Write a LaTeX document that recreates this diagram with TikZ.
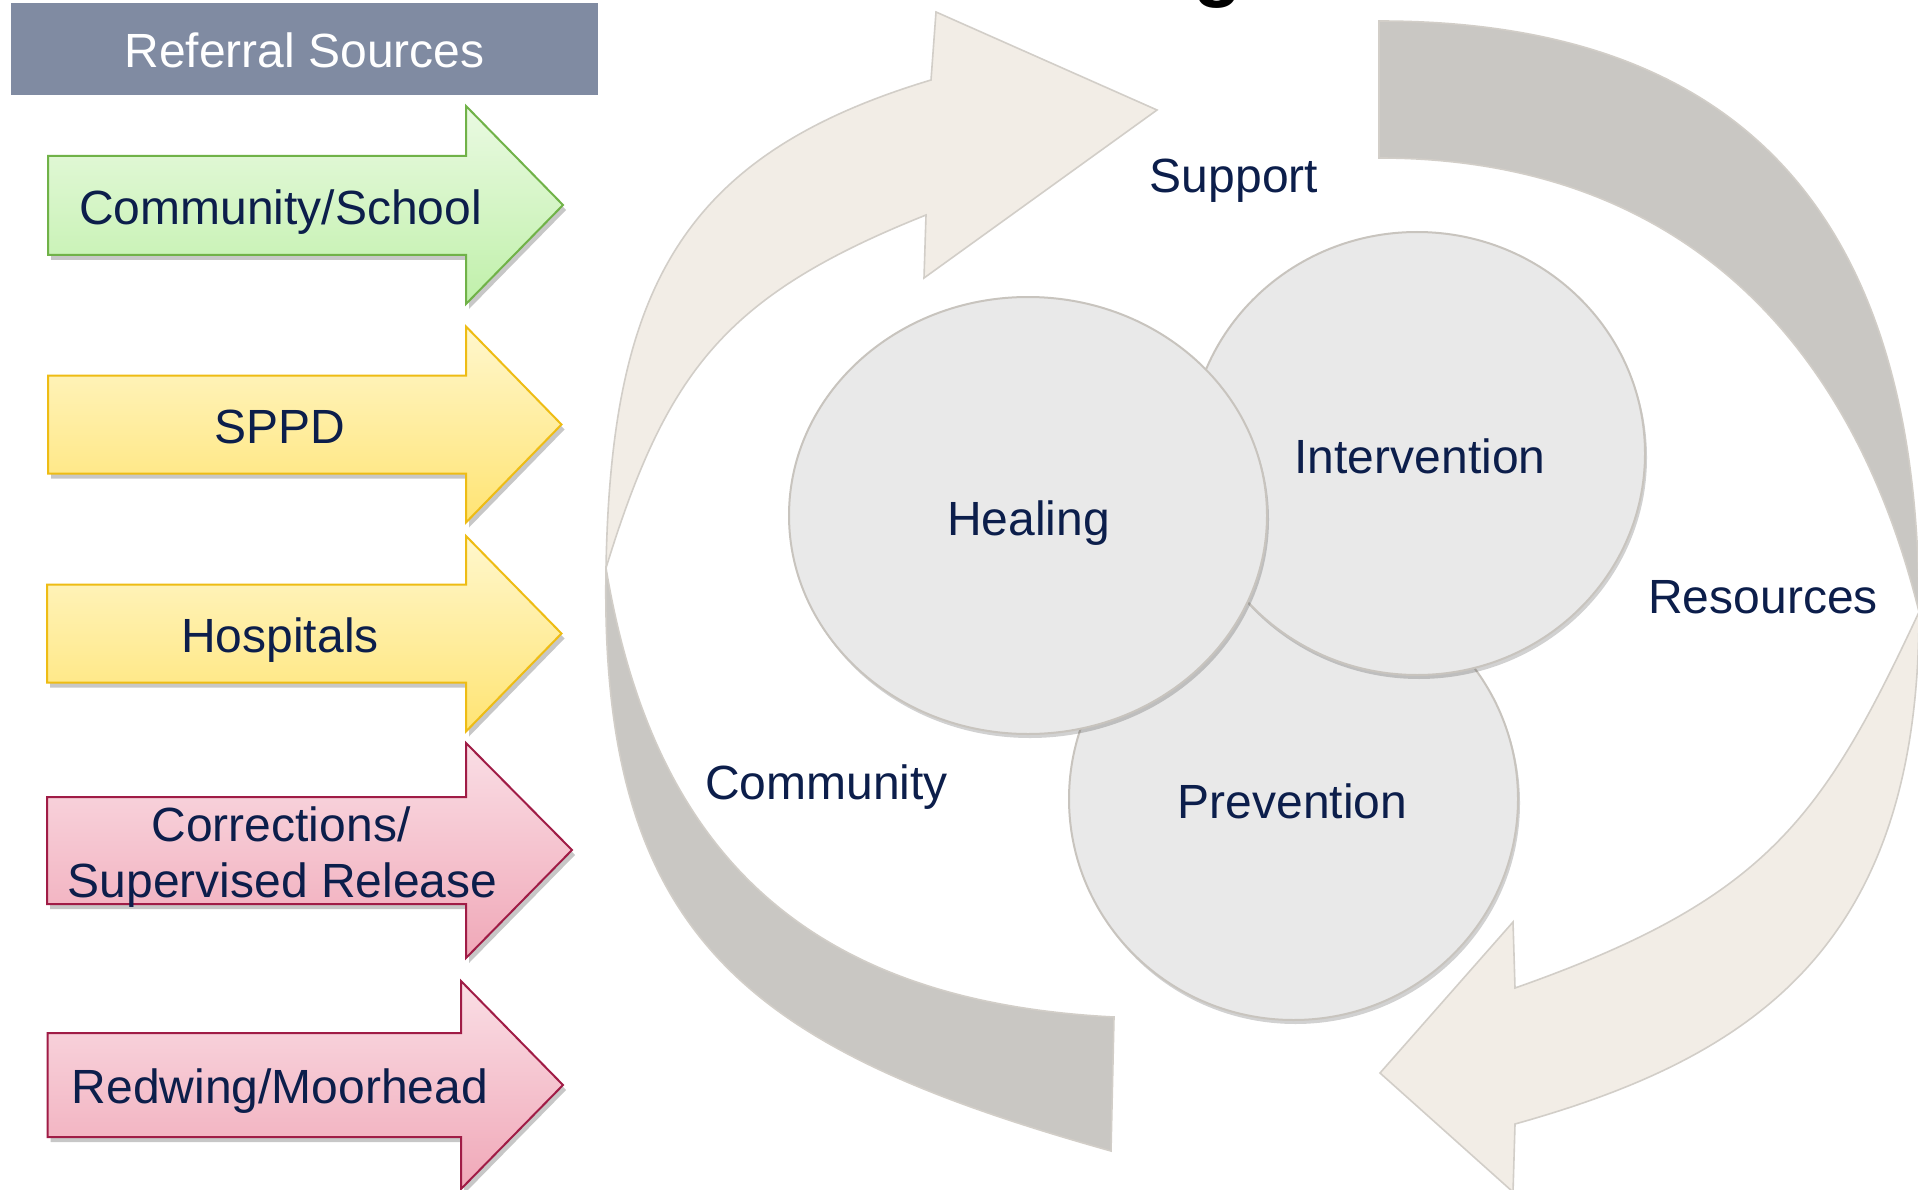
\documentclass[tikz,border=0pt]{standalone}
\usepackage{fontspec}
\setmainfont{Liberation Sans}
\usetikzlibrary{shadows,shapes.geometric}
\definecolor{navy}{RGB}{12,30,75}
\definecolor{hdr}{RGB}{128,139,162}
\definecolor{grnT}{RGB}{234,250,226}
\definecolor{grnB}{RGB}{192,240,170}
\definecolor{grnL}{RGB}{112,178,72}
\definecolor{ylwT}{RGB}{255,247,205}
\definecolor{ylwB}{RGB}{255,228,115}
\definecolor{ylwL}{RGB}{238,188,20}
\definecolor{pnkT}{RGB}{250,222,229}
\definecolor{pnkB}{RGB}{240,168,184}
\definecolor{pnkL}{RGB}{160,28,70}
\definecolor{circF}{RGB}{233,233,233}
\definecolor{circL}{RGB}{200,196,190}
\definecolor{beigeF}{RGB}{242,237,230}
\definecolor{greyF}{RGB}{201,199,195}
\definecolor{arcL}{RGB}{210,206,200}
\newcommand\srcarr[9]{%
  \path[#1] (#2,#4) -- (#3,#4) -- (#3,#6) -- (#8,#9) -- (#3,#7) -- (#3,#5) -- (#2,#5) -- cycle;}
\tikzset{
  big/.style={font=\fontsize{48}{56}\selectfont, text=navy, inner sep=0pt, anchor=base},
  srcarrow/.style={line width=2pt, line join=miter,
    drop shadow={shadow xshift=3pt, shadow yshift=-5pt, opacity=0.22, fill=black}},
  greenarr/.style={srcarrow, draw=grnL, top color=grnT, bottom color=grnB},
  yellowarr/.style={srcarrow, draw=ylwL, top color=ylwT, bottom color=ylwB},
  pinkarr/.style={srcarrow, draw=pnkL, top color=pnkT, bottom color=pnkB},
  circ/.style={ellipse, draw=circL, line width=2pt, fill=circF, inner sep=0pt,
    drop shadow={shadow xshift=2pt, shadow yshift=-4pt, opacity=0.18, fill=black}},
  beigearr/.style={fill=beigeF, draw=arcL, line width=1.6pt, line join=miter},
  greyarr/.style={fill=greyF, draw=arcL, line width=1.6pt, line join=miter},
}
\begin{document}
\begin{tikzpicture}[x=1pt,y=-1pt]
\useasboundingbox (0,0) rectangle (1918,1190);
\fill[white] (0,0) rectangle (1918,1190);

% title fragment
\node[font=\fontsize{80}{80}\selectfont\bfseries, anchor=base, inner sep=0pt] (ttl) at (1218,-8) {g};

% header
\node[fill=hdr, minimum width=587pt, minimum height=92pt, inner sep=0pt, anchor=north west] (hdr) at (11,3) {};
\node[big, text=white] (hdrtxt) at (304.5,68) {Referral Sources};

% referral arrows
\srcarr{greenarr}{48}{466}{156}{255}{106}{304}{563}{205}
\node[big] (a1) at (280.5,225) {Community/School};
\srcarr{yellowarr}{48}{466}{375.5}{473.5}{326.5}{522.5}{561.5}{424.5}
\node[big] (a2) at (280,443) {SPPD};
\srcarr{yellowarr}{47}{466}{584.5}{682.5}{536}{731.5}{561.5}{633.5}
\node[big] (a3) at (280,652) {Hospitals};
\srcarr{pinkarr}{47}{466}{797}{904}{743}{958}{572}{850}
\node[big] (a4a) at (281,841) {Corrections/};
\node[big] (a4b) at (282.5,897) {Supervised Release};
\srcarr{pinkarr}{47.5}{461}{1033}{1137}{981}{1189}{563}{1085}
\node[big] (a5) at (280,1103) {Redwing/Moorhead};

% right cycle arrow: grey tail and beige head
\path[greyarr] (1379,21) .. controls (1741,21) and (1919,215) .. (1919,612)
  .. controls (1852,340) and (1679,158) .. (1379,158) -- cycle;
\path[beigearr] (1919,612) .. controls (1919,945) and (1755,1057) .. (1515,1124)
  -- (1513,1192) -- (1380,1073) -- (1513,922) -- (1515,988)
  .. controls (1765,900) and (1822,820) .. (1919,612) -- cycle;

% left cycle arrow: grey tail and beige head
\path[greyarr] (1111,1151) .. controls (751,1050) and (599,940) .. (606,568)
  .. controls (653,850) and (804,1001.5) .. (1114,1017) -- cycle;
\path[beigearr] (606,568) .. controls (611,290) and (681,155) .. (931,80)
  -- (936,12) -- (1157,110) -- (924,278) -- (926,215)
  .. controls (726,295) and (667,370) .. (606,568) -- cycle;

% circles
\node[circ, minimum width=449pt, minimum height=442pt] (prev) at (1293.5,799) {};
\node[circ, minimum width=456pt, minimum height=443pt] (intv) at (1417,453.5) {};
\node[circ, minimum width=478pt, minimum height=437pt] (heal) at (1028,515.5) {};

% labels
\node[big] (lheal) at (1028.5,535) {Healing};
\node[big] (lintv) at (1420,473) {Intervention};
\node[big] (lprev) at (1292.5,818) {Prevention};
\node[big] (lres) at (1763,613) {Resources};
\node[big] (lsup) at (1234,193) {Support};
\node[big] (lcom) at (826.5,799.5) {Community};
\end{tikzpicture}
\end{document}
